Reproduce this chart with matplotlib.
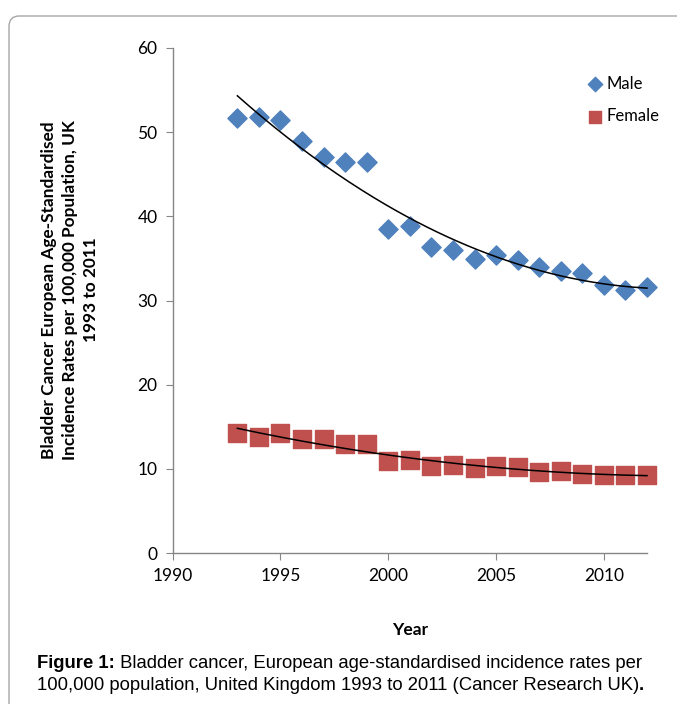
import numpy as np
import matplotlib.pyplot as plt
from matplotlib.patches import FancyBboxPatch

years = [1993, 1994, 1995, 1996, 1997, 1998, 1999, 2000, 2001, 2002,
         2003, 2004, 2005, 2006, 2007, 2008, 2009, 2010, 2011, 2012]
male = [51.7, 51.8, 51.5, 49.0, 47.0, 46.4, 46.4, 38.5, 38.9, 36.4,
        36.0, 34.9, 35.4, 34.8, 34.0, 33.5, 33.3, 31.8, 31.3, 31.6]
female = [14.2, 13.8, 14.3, 13.5, 13.5, 12.9, 13.0, 10.9, 11.0, 10.3,
          10.4, 10.1, 10.3, 10.2, 9.6, 9.8, 9.4, 9.3, 9.3, 9.3]

x_ticks = [1990, 1995, 2000, 2005, 2010]
y_ticks = [0, 10, 20, 30, 40, 50, 60]

ylabel = ("Bladder Cancer European Age-Standardised\n"
          "Incidence Rates per 100,000 Population, UK\n"
          "1993 to 2011")

plt.rcParams['font.family'] = ['Lato', 'DejaVu Sans']

fig = plt.figure(figsize=(6.77, 7.04), dpi=100)

# chart frame, sits behind the axes
frame = FancyBboxPatch((9 / 677, 1 - 720 / 704), 700 / 677, 704 / 704,
                       boxstyle="round,pad=0,rounding_size=0.015",
                       transform=fig.transFigure, facecolor='white',
                       edgecolor='#a6a6a6', linewidth=1.0, zorder=-5)
fig.patches.append(frame)

ax = fig.add_axes([172.7 / 677, 1 - 553 / 704, (647 - 172.7) / 677, (553 - 48) / 704])
ax.patch.set_alpha(0)

ax.scatter(years, male, marker='D', s=95, color='#4F81BD', label='Male',
           zorder=3, clip_on=False)
ax.scatter(years, female, marker='s', s=150, color='#C0504D', label='Female',
           zorder=3, clip_on=False)

yr = np.array(years, dtype=float)
xs = np.linspace(yr.min(), yr.max(), 200)
for series in (male, female):
    c = np.polyfit(yr, series, 2)
    ax.plot(xs, np.polyval(c, xs), color='black', linewidth=1.1, zorder=4,
            clip_on=False)

ax.set_xlim(1990, 2012)
ax.set_ylim(0, 60)
ax.set_xticks(x_ticks)
ax.set_yticks(y_ticks)
for s in ('top', 'right'):
    ax.spines[s].set_visible(False)
for s in ('left', 'bottom'):
    ax.spines[s].set_color('#868686')
    ax.spines[s].set_linewidth(1.0)
ax.tick_params(direction='out', length=5, color='#868686', labelsize=12.5,
               labelcolor='black', pad=6)

ax.set_xlabel('Year', fontsize=12.5, fontweight='bold', labelpad=27)
fig.text(70 / 677, 1 - 290 / 704, ylabel, rotation=90, ha='center', va='center',
         fontsize=12.4, fontweight='bold', linespacing=1.35)

ax.legend(loc='upper left', bbox_to_anchor=(0.872, 0.945), frameon=False,
          fontsize=12, handlelength=1.0, handletextpad=0.2, labelspacing=1.0,
          markerscale=0.75, borderpad=0, borderaxespad=0)

# caption: bold lead-in followed by regular text
cap_font = ['Liberation Sans', 'DejaVu Sans']
cap_size = 13.3
renderer = fig.canvas.get_renderer()
t1 = fig.text(37 / 677, 1 - 663 / 704, "Figure 1:", fontsize=cap_size,
              fontweight='bold', va='center', family=cap_font)
w = t1.get_window_extent(renderer).width / fig.bbox.width
fig.text(37 / 677 + w, 1 - 663 / 704,
         " Bladder cancer, European age-standardised incidence rates per",
         fontsize=cap_size, va='center', family=cap_font)
t3 = fig.text(37 / 677, 1 - 686 / 704,
              "100,000 population, United Kingdom 1993 to 2011 (Cancer Research UK)",
              fontsize=cap_size, va='center', family=cap_font)
w3 = t3.get_window_extent(renderer).width / fig.bbox.width
fig.text(37 / 677 + w3, 1 - 686 / 704, ".", fontsize=cap_size,
         fontweight='bold', va='center', family=cap_font)

fig.savefig('out.png', dpi=100)
